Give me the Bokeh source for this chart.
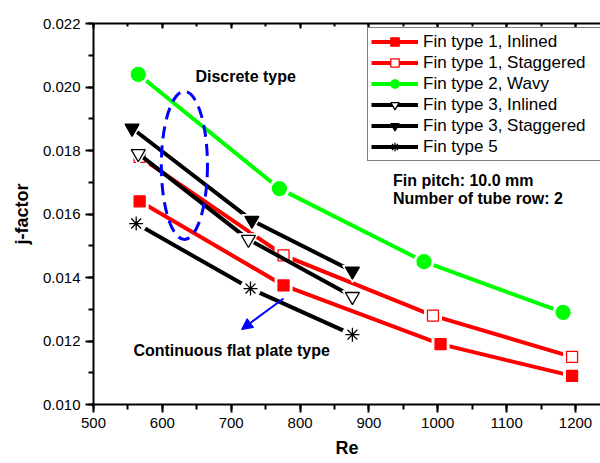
from bokeh.plotting import figure
from bokeh.embed import file_html
from bokeh.resources import INLINE
from bokeh.models import (Legend, LegendItem, LinearAxis, SingleIntervalTicker,
                          NumeralTickFormatter, CustomJSTickFormatter, Label, Arrow,
                          NormalHead, Range1d)

# ---------------- data ----------------
re_ft1_in = [567, 776, 1004, 1195]
j_ft1_in = [0.0164, 0.01375, 0.0119, 0.0109]

re_ft1_st = [567, 776, 993, 1195]
j_ft1_st = [0.0178, 0.0147, 0.0128, 0.0115]

re_ft2 = [565, 770, 980, 1182]
j_ft2 = [0.0204, 0.0168, 0.0145, 0.0129]

re_ft3_in = [565, 725, 876]
j_ft3_in = [0.0179, 0.0152, 0.0134]

re_ft3_st = [556, 730, 876]
j_ft3_st = [0.0187, 0.0158, 0.0142]

re_ft5 = [562, 728, 876]
j_ft5 = [0.0157, 0.01365, 0.0122]

labels = ["Fin type 1, Inlined", "Fin type 1, Staggered", "Fin type 2, Wavy",
          "Fin type 3, Inlined", "Fin type 3, Staggered", "Fin type 5"]

FONT = "Liberation Sans"

p = figure(width=600, height=463,
           x_range=Range1d(500, 1236.3), y_range=Range1d(0.010, 0.022),
           output_backend="svg", toolbar_location=None,
           min_border_left=93, min_border_right=0, min_border_top=23, min_border_bottom=59)
p.outline_line_color = None
p.xgrid.visible = False
p.ygrid.visible = False
p.background_fill_color = "white"
p.border_fill_color = "white"

p.xaxis.ticker = SingleIntervalTicker(interval=100, num_minor_ticks=2)
p.yaxis.ticker = SingleIntervalTicker(interval=0.002, num_minor_ticks=2)
p.yaxis.formatter = NumeralTickFormatter(format="0.000")

for ax in (p.xaxis[0], p.yaxis[0]):
    ax.axis_line_width = 2
    ax.axis_line_color = "black"
    ax.major_tick_line_width = 2
    ax.minor_tick_line_width = 2
    ax.major_tick_out = 8
    ax.major_tick_in = 0
    ax.minor_tick_out = 5
    ax.minor_tick_in = 0
    ax.major_label_text_font = FONT
    ax.major_label_text_font_size = "15px"
    ax.major_label_text_color = "black"
    ax.major_label_standoff = 5
    ax.axis_label_text_font = FONT
    ax.axis_label_text_font_size = "18px"
    ax.axis_label_text_font_style = "bold"
    ax.axis_label_text_color = "black"

p.xaxis.axis_label = "Re"
p.xaxis.axis_label_standoff = 7
p.yaxis.axis_label = "j-factor"
p.yaxis.axis_label_standoff = 8

top = LinearAxis(ticker=SingleIntervalTicker(interval=100, num_minor_ticks=2),
                 formatter=CustomJSTickFormatter(code="return ''"),
                 axis_line_width=2, major_tick_line_width=2, minor_tick_line_width=2,
                 major_tick_in=5, major_tick_out=0, minor_tick_in=3, minor_tick_out=0,
                 major_label_text_font_size="1px", major_label_standoff=0)
p.add_layout(top, "above")

series = [
    (re_ft1_in, j_ft1_in, "red", "square", "red", 11),
    (re_ft1_st, j_ft1_st, "red", "square", "white", 11),
    (re_ft2, j_ft2, "#00ff00", "circle", "#00ff00", 14),
    (re_ft3_in, j_ft3_in, "black", "inverted_triangle", "white", 14),
    (re_ft3_st, j_ft3_st, "black", "inverted_triangle", "black", 14),
    (re_ft5, j_ft5, "black", "asterisk", None, 14),
]

items = []
for (xs, ys, col, mk, fill, sz), lab in zip(series, labels):
    lr = p.line(xs, ys, line_color=col, line_width=4)
    p.scatter(xs, ys, marker="circle" if mk == "asterisk" else mk, size=sz + 6,
              fill_color="white", line_color="white", line_width=1)
    mr = p.scatter(xs, ys, marker=mk, size=sz, fill_color=fill, line_color=col,
                   line_width=1.3)
    items.append(LegendItem(label=lab, renderers=[lr, mr]))

legend = Legend(items=items, location=(274, 243),
                label_text_font=FONT, label_text_font_size="17px",
                label_text_color="black",
                glyph_width=47, glyph_height=21, label_height=21, label_width=200,
                label_standoff=5, spacing=0, padding=3, margin=0,
                border_line_color="black", border_line_width=1.5,
                background_fill_color="white", background_fill_alpha=1)
p.add_layout(legend)

# ---------------- annotations ----------------
ell_x, ell_y, ell_w, ell_h = 632, 0.01753, 67, 0.00466
p.ellipse(x=[ell_x], y=[ell_y], width=ell_w, height=ell_h, fill_color=None,
          line_color="#0000ff", line_width=3, line_dash="12 7")

arr_x0, arr_y0, arr_x1, arr_y1 = 776, 0.01334, 715, 0.01236
p.add_layout(Arrow(x_start=arr_x0, y_start=arr_y0, x_end=arr_x1, y_end=arr_y1,
                   line_color="#0000ff", line_width=2,
                   end=NormalHead(size=11, fill_color="#0000ff", line_color="#0000ff")))

def txt(x, y, s, size="16px", style="bold", align="left"):
    p.add_layout(Label(x=x, y=y, text=s, text_font=FONT, text_font_size=size,
                       text_font_style=style, text_align=align, text_baseline="middle",
                       text_color="black"))

txt(648, 0.02033, "Discrete type")
txt(558, 0.0117, "Continuous flat plate type")
txt(935, 0.01706, "Fin pitch: 10.0 mm")
txt(935, 0.01649, "Number of tube row: 2")

open("out.html", "w").write(file_html(p, INLINE))
